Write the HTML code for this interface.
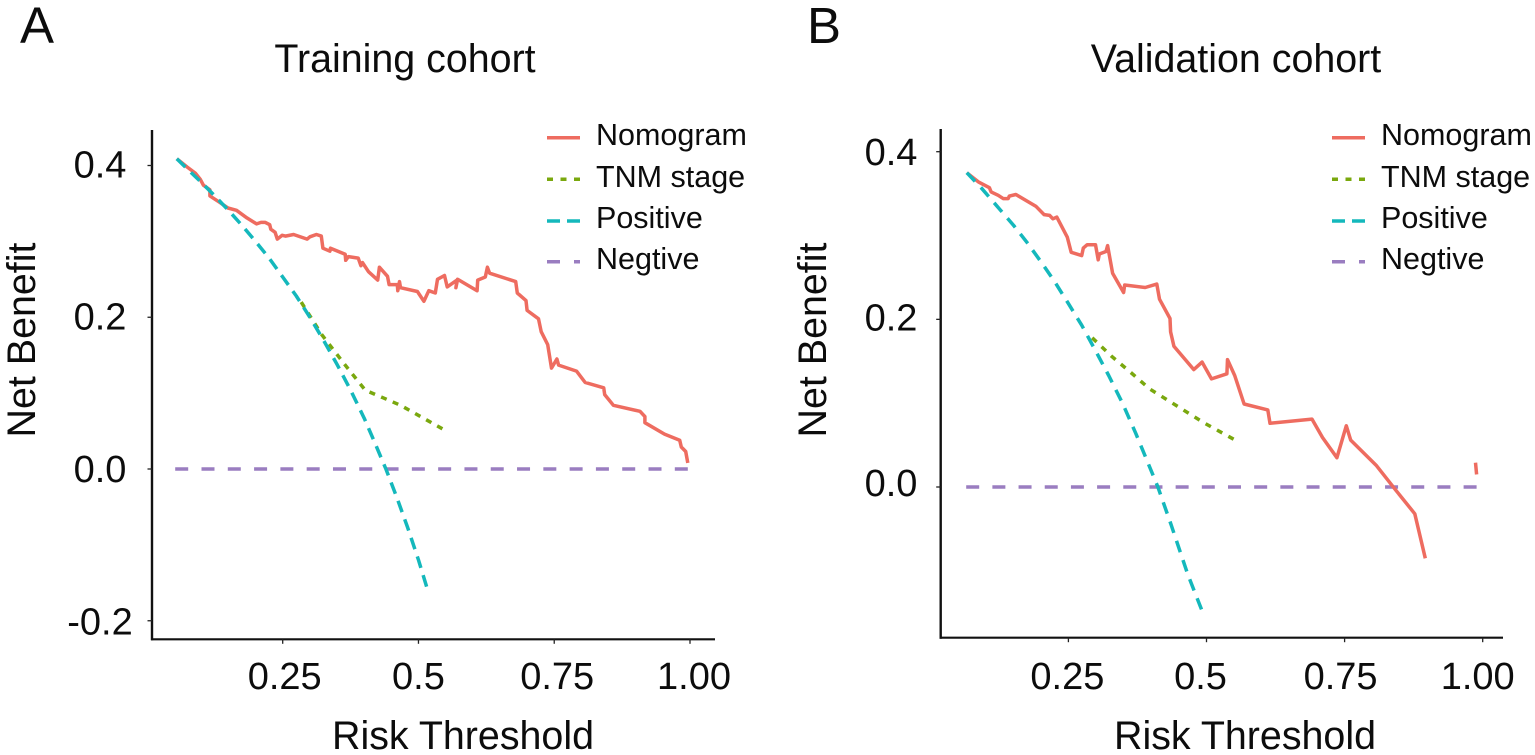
<!DOCTYPE html>
<html lang="en">
<head>
<meta charset="utf-8">
<title>Decision curve analysis</title>
<style>
html,body{margin:0;padding:0;background:#fff;width:1535px;height:755px;overflow:hidden}
svg{display:block}
text{font-family:"Liberation Sans",Arial,sans-serif;fill:#0c0c0c}
.tick-label{font-size:38px}
.axis-title,.panel-title{font-size:39.4px}
.legend-text{font-size:30.5px}
.panel-letter{font-size:51px}
</style>
</head>
<body>
<svg id="figure" width="1535" height="755" viewBox="0 0 1535 755" xmlns="http://www.w3.org/2000/svg">
  <rect width="1535" height="755" fill="#fff"/>

  <g id="panel-a">
    <text class="panel-letter" x="20" y="43">A</text>
    <text class="panel-title" x="405" y="72" text-anchor="middle">Training cohort</text>
    <text class="axis-title" transform="translate(35 340) rotate(-90)" text-anchor="middle">Net Benefit</text>
    <text class="axis-title" x="463" y="749" text-anchor="middle">Risk Threshold</text>
    <line x1="152" y1="130" x2="152" y2="640.3" stroke="#111" stroke-width="2.4"/>
    <line x1="151" y1="639.3" x2="715" y2="639.3" stroke="#111" stroke-width="2.2"/>
    <g id="a-ticks"></g>
    <g id="a-series"></g>
    <g>
      <g>
        <line x1="547" y1="137.7" x2="580" y2="137.7" stroke="#EE6C60" stroke-width="3.5"/>
        <text class="legend-text" x="596" y="145">Nomogram</text>
      </g>
      <g>
        <line x1="547" y1="179.3" x2="580" y2="179.3" stroke="#7AA80E" stroke-width="3.5" stroke-dasharray="6 7.5"/>
        <text class="legend-text" x="596" y="187">TNM stage</text>
      </g>
      <g>
        <line x1="547" y1="221" x2="580" y2="221" stroke="#14B8BC" stroke-width="3.5" stroke-dasharray="13 7"/>
        <text class="legend-text" x="596" y="228">Positive</text>
      </g>
      <g>
        <line x1="547" y1="261.7" x2="580" y2="261.7" stroke="#9A7DC0" stroke-width="3.5" stroke-dasharray="13 14"/>
        <text class="legend-text" x="596" y="269">Negtive</text>
      </g>
    </g>
  </g>

  <g id="panel-b">
    <text class="panel-letter" x="807" y="43">B</text>
    <text class="panel-title" x="1236" y="72" text-anchor="middle">Validation cohort</text>
    <text class="axis-title" transform="translate(826 340) rotate(-90)" text-anchor="middle">Net Benefit</text>
    <text class="axis-title" x="1245" y="749" text-anchor="middle">Risk Threshold</text>
    <line x1="940.7" y1="129" x2="940.7" y2="638.7" stroke="#111" stroke-width="2.4"/>
    <line x1="939.7" y1="637.7" x2="1503" y2="637.7" stroke="#111" stroke-width="2.2"/>
    <g id="b-ticks"></g>
    <g id="b-series"></g>
    <g>
      <g>
        <line x1="1332" y1="137.7" x2="1365" y2="137.7" stroke="#EE6C60" stroke-width="3.5"/>
        <text class="legend-text" x="1381" y="145">Nomogram</text>
      </g>
      <g>
        <line x1="1332" y1="179.3" x2="1365" y2="179.3" stroke="#7AA80E" stroke-width="3.5" stroke-dasharray="6 7.5"/>
        <text class="legend-text" x="1381" y="187">TNM stage</text>
      </g>
      <g>
        <line x1="1332" y1="221" x2="1365" y2="221" stroke="#14B8BC" stroke-width="3.5" stroke-dasharray="13 7"/>
        <text class="legend-text" x="1381" y="228">Positive</text>
      </g>
      <g>
        <line x1="1332" y1="261.7" x2="1365" y2="261.7" stroke="#9A7DC0" stroke-width="3.5" stroke-dasharray="13 14"/>
        <text class="legend-text" x="1381" y="269">Negtive</text>
      </g>
    </g>
  </g>
</svg>

<script>
/* Tick values and labels */
var xTickValues = [0.25, 0.5, 0.75, 1.0];
var xTickLabels = ["0.25", "0.5", "0.75", "1.00"];
var trainYTickValues = [0.4, 0.2, 0.0, -0.2];
var trainYTickLabels = ["0.4", "0.2", "0.0", "-0.2"];
var validYTickValues = [0.4, 0.2, 0.0];
var validYTickLabels = ["0.4", "0.2", "0.0"];

/* Training cohort */
var trainNomogramT = [0.055,0.074,0.089,0.098,0.104,0.116,0.116,0.135,0.149,0.165,0.184,0.202,0.21,0.218,0.226,0.228,0.236,0.24,0.249,0.255,0.27,0.295,0.3,0.312,0.321,0.324,0.337,0.338,0.365,0.366,0.371,0.389,0.394,0.397,0.408,0.425,0.428,0.443,0.446,0.461,0.462,0.465,0.467,0.498,0.51,0.519,0.531,0.535,0.548,0.553,0.571,0.569,0.572,0.608,0.609,0.623,0.627,0.631,0.679,0.682,0.698,0.7,0.721,0.726,0.738,0.745,0.755,0.758,0.791,0.807,0.841,0.843,0.859,0.908,0.917,0.917,0.953,0.981,0.984,0.992,0.996];
var trainNomogramNB = [0.409,0.398,0.39,0.382,0.374,0.368,0.36,0.351,0.344,0.341,0.331,0.323,0.325,0.325,0.322,0.316,0.312,0.303,0.308,0.307,0.309,0.303,0.306,0.309,0.307,0.291,0.287,0.291,0.283,0.275,0.28,0.278,0.268,0.272,0.26,0.249,0.266,0.254,0.243,0.243,0.235,0.247,0.239,0.234,0.221,0.235,0.232,0.25,0.255,0.24,0.249,0.239,0.25,0.235,0.249,0.253,0.266,0.258,0.247,0.232,0.222,0.209,0.198,0.181,0.164,0.133,0.145,0.137,0.129,0.114,0.107,0.098,0.084,0.076,0.069,0.061,0.046,0.038,0.029,0.023,0.008];
var trainTnmT = [0.284,0.322,0.365,0.402,0.467,0.544];
var trainTnmNB = [0.22,0.177,0.137,0.104,0.084,0.053];
var trainPositiveT = [0.055,0.075,0.1,0.125,0.15,0.175,0.2,0.225,0.25,0.275,0.3,0.325,0.35,0.375,0.4,0.42,0.44,0.46,0.48,0.5,0.515];
var trainPositiveNB = [0.409,0.395,0.378,0.36,0.341,0.321,0.3,0.278,0.253,0.228,0.2,0.17,0.138,0.104,0.067,0.034,0,-0.037,-0.077,-0.12,-0.155];
var trainNegativeT = [0.052,0.996];
var trainNegativeNB = [0,0];

/* Validation cohort */
var validNomogramT = [0.066,0.087,0.107,0.11,0.123,0.132,0.141,0.143,0.155,0.191,0.206,0.216,0.222,0.229,0.248,0.255,0.274,0.277,0.284,0.299,0.304,0.306,0.318,0.321,0.33,0.35,0.352,0.389,0.41,0.415,0.434,0.435,0.441,0.477,0.492,0.509,0.537,0.538,0.551,0.568,0.611,0.615,0.691,0.71,0.736,0.753,0.761,0.807,0.843,0.877,0.896];
var validNomogramNB = [0.375,0.364,0.357,0.352,0.348,0.344,0.344,0.347,0.349,0.335,0.325,0.324,0.32,0.322,0.298,0.28,0.276,0.285,0.289,0.289,0.271,0.278,0.281,0.288,0.255,0.232,0.241,0.238,0.242,0.224,0.201,0.185,0.168,0.14,0.149,0.129,0.135,0.152,0.133,0.099,0.092,0.076,0.081,0.059,0.035,0.073,0.056,0.026,-0.004,-0.032,-0.085];
var validNomogramTailT = [0.987,0.989];
var validNomogramTailNB = [0.029,0.015];
var validTnmT = [0.293,0.328,0.364,0.397,0.497,0.549];
var validTnmNB = [0.178,0.156,0.136,0.117,0.076,0.057];
var validPositiveT = [0.066,0.092,0.126,0.151,0.176,0.2,0.225,0.249,0.274,0.298,0.323,0.348,0.372,0.412,0.436,0.466,0.491];
var validPositiveNB = [0.375,0.357,0.331,0.312,0.291,0.269,0.245,0.22,0.193,0.164,0.133,0.1,0.064,0,-0.045,-0.104,-0.146];
var validNegativeT = [0.065,0.989];
var validNegativeNB = [0,0];

var SVG_NS = "http://www.w3.org/2000/svg";

function linearScale(d0, d1, r0, r1) {
  return function (v) { return r0 + (v - d0) * (r1 - r0) / (d1 - d0); };
}

var trainX = linearScale(0.25, 1.0, 282.7, 690);
var trainY = linearScale(0, 0.4, 469, 165.5);
var validX = linearScale(0.25, 1.0, 1068.4, 1482.7);
var validY = linearScale(0, 0.4, 487, 151.7);

function drawSeries(parent, name, ts, nbs, xs, ys, color, dash, gap) {
  var pts = [];
  for (var i = 0; i < ts.length; i++) {
    pts.push(xs(ts[i]).toFixed(1) + "," + ys(nbs[i]).toFixed(1));
  }
  var line = document.createElementNS(SVG_NS, "polyline");
  line.setAttribute("points", pts.join(" "));
  line.setAttribute("fill", "none");
  line.setAttribute("stroke", color);
  line.setAttribute("stroke-width", "3.5");
  line.setAttribute("stroke-linejoin", "round");
  
  
  parent.appendChild(line);
  if (dash) {
    /* stretch the gap a touch so the pattern finishes on a dash at the line's end */
    var len = line.getTotalLength();
    var n = Math.max(1, Math.round((len - dash) / (dash + gap)));
    var fitted = (len - dash) / n - dash;
    line.setAttribute("stroke-dasharray", dash + " " + fitted.toFixed(3));
  }
}

function drawTicks(parent, xs, ys, axisX, axisY, yVals, yLabels, yLabelX, baseOffset, xNudge) {
  xTickValues.forEach(function (v, i) {
    var t = document.createElementNS(SVG_NS, "line");
    t.setAttribute("x1", xs(v));
    t.setAttribute("x2", xs(v));
    t.setAttribute("y1", axisY);
    t.setAttribute("y2", axisY + 4.5);
    t.setAttribute("stroke", "#222");
    t.setAttribute("stroke-width", "1.3");
    
    
    parent.appendChild(t);
    var l = document.createElementNS(SVG_NS, "text");
    l.setAttribute("class", "tick-label");
    l.setAttribute("x", xs(v) + xNudge(v));
    l.setAttribute("y", 689);
    l.setAttribute("text-anchor", "middle");
    
    
    l.textContent = xTickLabels[i];
    parent.appendChild(l);
  });
  yVals.forEach(function (v, i) {
    var t = document.createElementNS(SVG_NS, "line");
    t.setAttribute("x1", axisX - 4.5);
    t.setAttribute("x2", axisX);
    t.setAttribute("y1", ys(v));
    t.setAttribute("y2", ys(v));
    t.setAttribute("stroke", "#222");
    t.setAttribute("stroke-width", "1.3");
    
    
    parent.appendChild(t);
    var l = document.createElementNS(SVG_NS, "text");
    l.setAttribute("class", "tick-label");
    l.setAttribute("x", yLabelX);
    l.setAttribute("y", ys(v) + baseOffset(v));
    l.setAttribute("text-anchor", "middle");
    
    
    l.textContent = yLabels[i];
    parent.appendChild(l);
  });
}

/* the reference's x labels were placed by hand, slightly off their ticks */
drawTicks(document.getElementById("a-ticks"), trainX, trainY, 152, 639.3,
  trainYTickValues, trainYTickLabels, 100,
  function (v) { return 13 - v * 3; },
  function (v) { return v === 0.25 ? 2 : v === 0.5 ? 0 : v === 0.75 ? 3 : 4; });
drawTicks(document.getElementById("b-ticks"), validX, validY, 940.7, 637.7,
  validYTickValues, validYTickLabels, 891,
  function (v) { return 9 + v * 11; },
  function (v) { return v === 0.25 ? -1 : v === 0.5 ? -6 : v === 0.75 ? -4 : -5; });

var RED = "#EE6C60", GREEN = "#7AA80E", TEAL = "#14B8BC", PURPLE = "#9A7DC0";

var aSeries = document.getElementById("a-series");
drawSeries(aSeries, "training-negative-line", trainNegativeT, trainNegativeNB, trainX, trainY, PURPLE, 13, 13);
drawSeries(aSeries, "training-nomogram-line", trainNomogramT, trainNomogramNB, trainX, trainY, RED);
drawSeries(aSeries, "training-tnm-stage-line", trainTnmT, trainTnmNB, trainX, trainY, GREEN, 6, 7);
drawSeries(aSeries, "training-positive-line", trainPositiveT, trainPositiveNB, trainX, trainY, TEAL, 12, 8);

var bSeries = document.getElementById("b-series");
drawSeries(bSeries, "validation-negative-line", validNegativeT, validNegativeNB, validX, validY, PURPLE, 13, 13);
drawSeries(bSeries, "validation-nomogram-line", validNomogramT, validNomogramNB, validX, validY, RED);
drawSeries(bSeries, "validation-nomogram-tail-line", validNomogramTailT, validNomogramTailNB, validX, validY, RED);
drawSeries(bSeries, "validation-tnm-stage-line", validTnmT, validTnmNB, validX, validY, GREEN, 6, 7);
drawSeries(bSeries, "validation-positive-line", validPositiveT, validPositiveNB, validX, validY, TEAL, 12, 8);
</script>
</body>
</html>
